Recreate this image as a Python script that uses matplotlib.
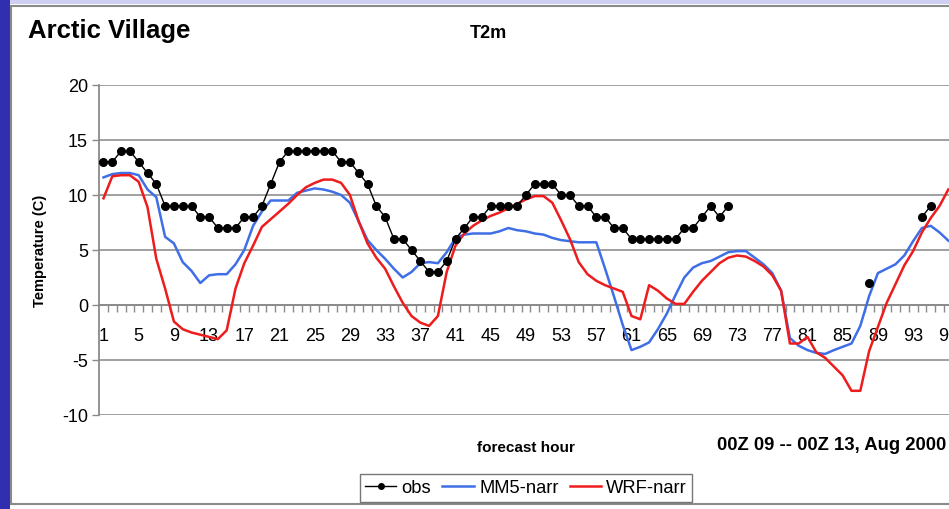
import numpy as np
import matplotlib

matplotlib.use('Agg')

from matplotlib import pyplot as plt
from matplotlib.patches import Rectangle
from matplotlib.lines import Line2D

plt.rcParams['font.family'] = ['Liberation Sans', 'DejaVu Sans']
plt.rcParams['axes.unicode_minus'] = False

##### Data #####
hours = list(range(1, 98))

obs = [13, 13, 14, 14, 13, 12, 11, 9, 9, 9, 9, 8, 8, 7, 7, 7, 8, 8, 9, 11,
       13, 14, 14, 14, 14, 14, 14, 13, 13, 12, 11, 9, 8, 6, 6, 5, 4, 3, 3, 4,
       6, 7, 8, 8, 9, 9, 9, 9, 10, 11, 11, 11, 10, 10, 9, 9, 8, 8, 7, 7,
       6, 6, 6, 6, 6, 6, 7, 7, 8, 9, 8, 9,
       None, None, None, None, None, None, None, None, None, None, None, None, None, None, None,
       2, None, None, None, None, None, 8, 9, None, None]

mm5 = [11.6, 11.9, 12.0, 12.0, 11.8, 10.5, 9.8, 6.2, 5.6, 3.9, 3.1, 2.0, 2.7, 2.8, 2.8, 3.7, 5.0, 7.2, 8.5, 9.5,
       9.5, 9.5, 10.2, 10.4, 10.6, 10.5, 10.3, 10.0, 9.3, 7.6, 5.9, 5.0, 4.2, 3.3, 2.5, 3.0, 3.8, 3.9, 3.8, 4.8,
       6.1, 6.4, 6.5, 6.5, 6.5, 6.7, 7.0, 6.8, 6.7, 6.5, 6.4, 6.1, 5.9, 5.8, 5.7, 5.7, 5.7, 3.3, 0.8, -1.8,
       -4.1, -3.8, -3.4, -2.2, -0.8, 0.9, 2.5, 3.4, 3.8, 4.0, 4.4, 4.8, 4.9, 4.9, 4.3, 3.7, 2.9, 1.3, -3.0, -3.7,
       -4.1, -4.35, -4.45, -4.1, -3.8, -3.5, -1.9, 0.8, 2.9, 3.3, 3.7, 4.5, 5.8, 7.0, 7.2, 6.6, 5.85]

wrf = [9.7, 11.7, 11.8, 11.8, 11.2, 8.9, 4.2, 1.5, -1.5, -2.2, -2.5, -2.7, -2.9, -3.1, -2.3, 1.5, 3.8, 5.4, 7.1, 7.8,
       8.5, 9.2, 10.0, 10.7, 11.1, 11.4, 11.4, 11.1, 10.0, 7.6, 5.6, 4.3, 3.3, 1.7, 0.2, -1.0, -1.6, -1.9, -1.0, 3.0,
       5.4, 6.5, 7.2, 7.7, 8.1, 8.4, 8.8, 9.2, 9.6, 9.9, 9.9, 9.3, 7.7, 6.0, 3.9, 2.8, 2.2, 1.8, 1.5, 1.2,
       -1.0, -1.3, 1.8, 1.3, 0.6, 0.1, 0.1, 1.2, 2.2, 3.0, 3.8, 4.3, 4.5, 4.4, 4.0, 3.5, 2.7, 1.3, -3.5, -3.5,
       -2.9, -4.3, -4.8, -5.6, -6.4, -7.8, -7.8, -4.2, -2.0, 0.2, 1.9, 3.6, 4.9, 6.6, 7.9, 9.0, 10.5]

obs = np.array([np.nan if v is None else v for v in obs], dtype=float)

##### Figure #####
W, H = 949, 510
fig = plt.figure(figsize=(W / 100, H / 100), dpi=100, facecolor='white')

# slide background pieces, kept behind the axes
fig.patches.append(Rectangle((0, 1 - 5 / H), 1, 5 / H, transform=fig.transFigure,
                             facecolor='#cfcff2', edgecolor='none', zorder=-3))
fig.patches.append(Rectangle((0, 0), 10 / W, 1, transform=fig.transFigure,
                             facecolor='#2f2fb0', edgecolor='none', zorder=-3))
fig.patches.append(Rectangle((11 / W, 5 / H), 1, (H - 12) / H, transform=fig.transFigure,
                             facecolor='white', edgecolor='#8a8a8a', lw=1.5, zorder=-2))

ax = fig.add_axes([99.1 / W, 94 / H, 97 * 8.8 / W, 330 / H])
ax.patch.set_alpha(0)

ax.plot(hours, obs, color='black', lw=1.0, marker='o', ms=5.5, zorder=5)
ax.plot(hours, mm5, color='#3f6fe6', lw=1.8, zorder=3)
ax.plot(hours, wrf, color='#ee1c1c', lw=1.8, zorder=4)

ax.set_xlim(0.5, 97.5)
ax.set_ylim(-10, 20)
ax.set_yticks(range(-10, 21, 5))
ax.grid(axis='y', color='#a0a0a0', lw=1.4)
ax.set_axisbelow(True)

for s in ['top', 'right']:
    ax.spines[s].set_visible(False)
ax.spines['left'].set_color('#8a8a8a')
ax.spines['left'].set_linewidth(1.3)
ax.spines['bottom'].set_position(('data', 0))
ax.spines['bottom'].set_color('#8a8a8a')
ax.spines['bottom'].set_linewidth(1.3)

ax.set_xticks(hours[::4])
ax.set_xticks([h + 0.5 for h in hours[:-1]], minor=True)
ax.tick_params(axis='x', which='major', length=0, pad=16, labelsize=13)
ax.tick_params(axis='x', which='minor', length=5, width=1, color='#8a8a8a', direction='out')
ax.tick_params(axis='y', length=5, width=1, color='#8a8a8a', labelsize=13, pad=3)

ax.set_ylabel('Temperature (C)', fontsize=10.5, fontweight='bold', labelpad=11)

fig.text(28 / W, 1 - 31 / H, 'Arctic Village', fontsize=18.5, fontweight='bold', va='center')
fig.text(488 / W, 1 - 34 / H, 'T2m', fontsize=13, fontweight='bold', ha='center', va='center')
fig.text(526 / W, 1 - 448 / H, 'forecast hour', fontsize=11, fontweight='bold', ha='center', va='center')
fig.text(717 / W, 1 - 446 / H, '00Z 09 -- 00Z 13, Aug 2000', fontsize=13.3, fontweight='bold', va='center')

handles = [Line2D([], [], color='black', lw=1.0, marker='o', ms=4),
           Line2D([], [], color='#3f6fe6', lw=1.8),
           Line2D([], [], color='#ee1c1c', lw=1.8)]
leg = fig.legend(handles, ['obs', 'MM5-narr', 'WRF-narr'], loc='center',
                 bbox_to_anchor=(526 / W, 1 - 489 / H), ncol=3, fontsize=13.2,
                 frameon=True, fancybox=False, edgecolor='#555555', handlelength=1.7,
                 handletextpad=0.3, columnspacing=0.6, borderpad=0.3)
leg.get_frame().set_linewidth(1.0)

plt.savefig('out.png', dpi=100)
